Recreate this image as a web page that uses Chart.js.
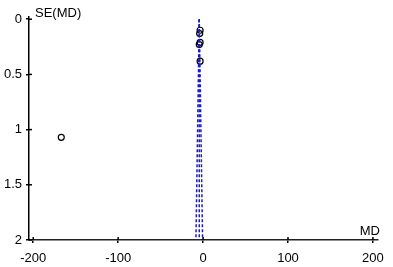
<!DOCTYPE html>
<html>
<head>
<meta charset="utf-8">
<script src="https://cdn.jsdelivr.net/npm/chart.js@4.4.0/dist/chart.umd.min.js"></script>
<style>
  html, body { margin: 0; padding: 0; background: #fff; }
  #wrap { width: 393px; height: 267px; }
</style>
</head>
<body>
<div id="wrap"><canvas id="funnel"></canvas></div>
<script>
// studies: mean difference and its standard error
const studyMD = [-167, -3.5, -4, -3.5, -4.5, -3.5];
const studySE = [1.07, 0.10, 0.13, 0.21, 0.23, 0.38];

// pooled estimate line and 95% limits
const pooledLine = [[-4.5, 0], [-4.5, 2]];
const lowerLimit = [[-4.5, 0], [-8.4, 2]];
const upperLimit = [[-4.5, 0], [-0.6, 2]];

const xTicks = [-200, -100, 0, 100, 200];
const yTicks = [0, 0.5, 1, 1.5, 2];

const toPts = arr => arr.map(p => ({x: p[0], y: p[1]}));
const blue = '#1a1ac8';

function funnelLine(pts) {
  return {
    type: 'line',
    data: toPts(pts),
    borderColor: blue,
    borderWidth: 1.5,
    borderDash: [3, 2],
    pointRadius: 0,
    fill: false
  };
}

// short ticks that cross the axis lines, plus axis titles
const axisExtras = {
  id: 'axisExtras',
  afterDraw(chart) {
    const ctx = chart.ctx;
    const a = chart.chartArea;
    const xs = chart.scales.x, ys = chart.scales.y;
    ctx.save();
    ctx.strokeStyle = '#000';
    ctx.lineWidth = 1.5;
    xTicks.forEach(v => {
      const px = xs.getPixelForValue(v);
      ctx.beginPath(); ctx.moveTo(px, a.bottom); ctx.lineTo(px, a.bottom - 3); ctx.stroke();
    });
    yTicks.forEach(v => {
      const py = ys.getPixelForValue(v);
      ctx.beginPath(); ctx.moveTo(a.left, py); ctx.lineTo(a.left + 3, py); ctx.stroke();
    });
    ctx.fillStyle = '#000';
    ctx.font = '13px "Liberation Sans", Arial, sans-serif';
    ctx.textBaseline = 'middle';
    ctx.textAlign = 'left';
    ctx.fillText('SE(MD)', a.left + 6, 13);
    ctx.textAlign = 'right';
    ctx.fillText('MD', a.right + 2, a.bottom - 9);
    ctx.restore();
  }
};

const tickFont = { family: '"Liberation Sans", Arial, sans-serif', size: 13 };

new Chart(document.getElementById('funnel').getContext('2d'), {
  type: 'scatter',
  data: {
    datasets: [
      funnelLine(pooledLine),
      funnelLine(lowerLimit),
      funnelLine(upperLimit),
      {
        type: 'scatter',
        data: studyMD.map((v, i) => ({x: v, y: studySE[i]})),
        pointStyle: 'circle',
        pointRadius: 3,
        borderColor: '#000',
        borderWidth: 1.2,
        backgroundColor: 'rgba(0,0,0,0)'
      }
    ]
  },
  options: {
    responsive: true,
    maintainAspectRatio: false,
    animation: false,
    layout: { padding: { top: 17, right: 15, left: 0, bottom: 0 } },
    plugins: { legend: { display: false }, tooltip: { enabled: false } },
    scales: {
      x: {
        type: 'linear',
        min: -205,
        max: 206,
        afterBuildTicks: s => { s.ticks = xTicks.map(v => ({value: v})); },
        afterFit: s => { s.height = 27; },
        grid: { display: true, drawOnChartArea: false, drawTicks: true, tickLength: 3, color: '#000', lineWidth: 1.5 },
        border: { display: true, color: '#222', width: 1.5 },
        ticks: { color: '#000', padding: 8, maxRotation: 0, font: tickFont, callback: v => String(v) }
      },
      y: {
        type: 'linear',
        reverse: true,
        min: -0.02,
        max: 2,
        afterBuildTicks: s => { s.ticks = yTicks.map(v => ({value: v})); },
        afterFit: s => { s.width = 29; },
        grid: { display: true, drawOnChartArea: false, drawTicks: true, tickLength: 3, color: '#000', lineWidth: 1.5 },
        border: { display: true, color: '#000', width: 1.5 },
        ticks: { color: '#000', padding: 4, font: tickFont, callback: v => String(v) }
      }
    }
  },
  plugins: [axisExtras]
});
</script>
</body>
</html>
